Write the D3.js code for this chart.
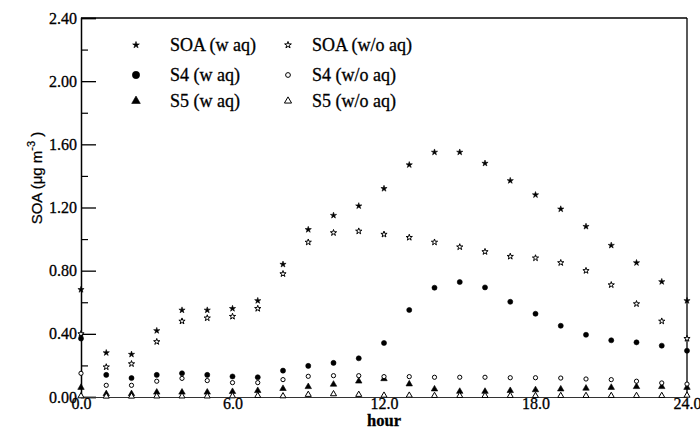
<!DOCTYPE html>
<html>
<head>
<meta charset="utf-8">
<script src="https://cdn.jsdelivr.net/npm/d3@7"></script>
<style>
  html, body { margin: 0; padding: 0; background: #fff; }
  svg { display: block; }
  .tick text, .lbl { font-family: "Liberation Serif", "Times New Roman", serif; fill: #000; stroke: #000; stroke-width: 0.3; }
</style>
</head>
<body>
<div id="chart"></div>
<script>
// hourly values, hour 0 .. 24
var hours = d3.range(0, 25);
var soaWaq  = [0.68, 0.28, 0.27, 0.42, 0.55, 0.55, 0.56, 0.61, 0.84, 1.06, 1.15, 1.21, 1.32, 1.47, 1.55, 1.55, 1.48, 1.37, 1.28, 1.19, 1.08, 0.96, 0.85, 0.73, 0.61];
var soaWoaq = [0.40, 0.19, 0.21, 0.35, 0.48, 0.50, 0.51, 0.56, 0.78, 0.98, 1.04, 1.05, 1.03, 1.01, 0.98, 0.95, 0.92, 0.89, 0.88, 0.85, 0.80, 0.71, 0.59, 0.48, 0.37];
var s4Waq   = [0.37, 0.14, 0.12, 0.14, 0.15, 0.14, 0.13, 0.125, 0.167, 0.197, 0.216, 0.245, 0.342, 0.551, 0.692, 0.728, 0.694, 0.603, 0.527, 0.451, 0.394, 0.359, 0.346, 0.325, 0.293];
var s4Woaq  = [0.15, 0.074, 0.074, 0.10, 0.118, 0.104, 0.091, 0.091, 0.110, 0.131, 0.135, 0.135, 0.129, 0.129, 0.125, 0.125, 0.125, 0.122, 0.122, 0.12, 0.114, 0.11, 0.10, 0.089, 0.082];
var s5Waq   = [0.06, 0.02, 0.02, 0.03, 0.03, 0.03, 0.034, 0.04, 0.053, 0.065, 0.08, 0.10, 0.115, 0.082, 0.05, 0.035, 0.035, 0.04, 0.045, 0.05, 0.055, 0.06, 0.065, 0.065, 0.06];
var s5Woaq  = [0.006, 0.004, 0.004, 0.005, 0.005, 0.005, 0.006, 0.008, 0.006, 0.015, 0.019, 0.015, 0.01, 0.01, 0.008, 0.008, 0.008, 0.008, 0.008, 0.008, 0.008, 0.008, 0.008, 0.008, 0.01];

var seriesNames = ["SOA (w aq)", "S4 (w aq)", "S5 (w aq)", "SOA (w/o aq)", "S4 (w/o aq)", "S5 (w/o aq)"];
var xTicks = [0, 6, 12, 18, 24];
var yTicks = [0, 0.4, 0.8, 1.2, 1.6, 2.0, 2.4];
var yMinorTicks = [0.2, 0.6, 1.0, 1.4, 1.8, 2.2];

(function () {

  "use strict";

  var width = 700, height = 433;
  var margin = {left: 81, right: 13, top: 18, bottom: 36};

  var series = [
    {name: seriesNames[0], values: soaWaq,  shape: d3.symbolStar,     filled: true,  size: 12, legendSize: 14},
    {name: seriesNames[1], values: s4Waq,   shape: d3.symbolCircle,   filled: true,  size: 20, legendSize: 42},
    {name: seriesNames[2], values: s5Waq,   shape: d3.symbolTriangle, filled: true,  size: 18, legendSize: 32},
    {name: seriesNames[3], values: soaWoaq, shape: d3.symbolStar,     filled: false, size: 12, legendSize: 14},
    {name: seriesNames[4], values: s4Woaq,  shape: d3.symbolCircle,   filled: false, size: 14, legendSize: 18},
    {name: seriesNames[5], values: s5Woaq,  shape: d3.symbolTriangle, filled: false, size: 16, legendSize: 22}
  ];

  var svg = d3.select("#chart").append("svg")
    .attr("width", width)
    .attr("height", height);

  var x = d3.scaleLinear().domain([0, 24]).range([margin.left, width - margin.right]);
  var y = d3.scaleLinear().domain([0, 2.4]).range([height - margin.bottom, margin.top]);

  // frame: top and right edges
  svg.append("line")
    .attr("x1", x(0)).attr("x2", x(24)).attr("y1", y(2.4)).attr("y2", y(2.4))
    .attr("stroke", "#000").attr("stroke-width", 1.3);
  svg.append("line")
    .attr("x1", x(24)).attr("x2", x(24)).attr("y1", y(2.4)).attr("y2", y(0))
    .attr("stroke", "#000").attr("stroke-width", 1.3);

  // y axis, major ticks pointing inward
  var yAxis = svg.append("g")
    .attr("transform", "translate(" + x(0) + ",0)")
    .call(d3.axisLeft(y).tickValues(yTicks).tickSize(-15).tickPadding(4).tickFormat(d3.format(".2f")));
  yAxis.select(".domain").attr("stroke", "#000").attr("stroke-width", 1.5);
  yAxis.selectAll(".tick line").attr("stroke", "#000").attr("stroke-width", 1.3);
  yAxis.selectAll(".tick text").attr("font-size", 16);

  svg.append("g")
    .attr("transform", "translate(" + x(0) + ",0)")
    .call(d3.axisLeft(y).tickValues(yMinorTicks).tickSize(-7).tickFormat(""))
    .call(function (g) { g.select(".domain").remove(); })
    .selectAll(".tick line").attr("stroke", "#000").attr("stroke-width", 1.2);

  // x axis, labels only
  var xAxis = svg.append("g")
    .attr("transform", "translate(0," + y(0) + ")")
    .call(d3.axisBottom(x).tickValues(xTicks).tickSize(0).tickPadding(1).tickFormat(d3.format(".1f")));
  xAxis.select(".domain").attr("stroke", "#333").attr("stroke-width", 1);
  xAxis.selectAll(".tick text").attr("font-size", 16);

  // axis titles
  svg.append("text")
    .attr("class", "lbl")
    .attr("x", (x(0) + x(24)) / 2)
    .attr("y", 426)
    .attr("text-anchor", "middle")
    .attr("font-size", 16.5)
    .attr("font-weight", "bold")
    .text("hour");

  var yTitle = svg.append("text")
    .attr("transform", "translate(42," + 178 + ") rotate(-90)")
    .attr("text-anchor", "middle")
    .attr("font-family", "'Liberation Sans', Arial, sans-serif")
    .attr("font-size", 15)
    .attr("fill", "#000")
    .attr("stroke", "#000")
    .attr("stroke-width", 0.25);
  yTitle.append("tspan").text("SOA (\u03bcg m");
  yTitle.append("tspan").attr("dy", -7).attr("font-size", 11).text("-3");
  yTitle.append("tspan").attr("dy", 7).text(" )");

  // markers
  series.forEach(function (s) {
    var sym = d3.symbol().type(s.shape).size(s.size);
    svg.append("g").selectAll("path")
      .data(hours)
      .join("path")
      .attr("transform", function (h) { return "translate(" + x(h) + "," + y(s.values[h]) + ")"; })
      .attr("d", sym)
      .attr("fill", s.filled ? "#000" : "#fff")
      .attr("stroke", "#000")
      .attr("stroke-width", s.filled ? 0.6 : 1);
  });

  // legend: two columns, three rows
  var legendCols = [{mx: 136, tx: 170}, {mx: 288, tx: 312}];
  var legendRows = [45, 75, 101];
  series.forEach(function (s, i) {
    var col = legendCols[Math.floor(i / 3)];
    var row = legendRows[i % 3];
    svg.append("path")
      .attr("transform", "translate(" + col.mx + "," + row + ")")
      .attr("d", d3.symbol().type(s.shape).size(s.legendSize))
      .attr("fill", s.filled ? "#000" : "#fff")
      .attr("stroke", "#000")
      .attr("stroke-width", s.filled ? 0.6 : 1);
    svg.append("text")
      .attr("class", "lbl")
      .attr("x", col.tx)
      .attr("y", row + 6)
      .attr("font-size", 18)
      .text(s.name);
  });

}());
</script>
</body>
</html>
